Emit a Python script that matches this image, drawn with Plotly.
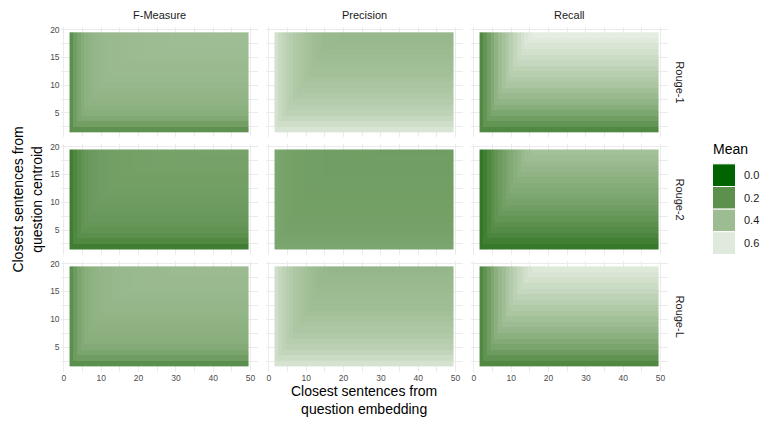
import plotly.graph_objects as go
import numpy as np

# ---------------- data ----------------
metrics = ["F-Measure", "Precision", "Recall"]
rouges = ["Rouge-1", "Rouge-2", "Rouge-L"]
x_vals = list(range(2, 50))   # closest sentences from question embedding
y_vals = list(range(2, 20))   # closest sentences from question centroid
legend_breaks = [0.0, 0.2, 0.4, 0.6]

# top-row profile (y = 19, x = 2..49) and right-column profile (x = 49, y = 2..19)
r1_f_top = [0.200,0.260,0.300,0.330,0.350,0.360,0.370,0.375,0.380,0.383,
            0.386,0.388,0.390,0.392,0.393,0.394,0.395,0.396,0.397,0.398,
            0.399,0.400,0.400,0.401,0.401,0.402,0.402,0.403,0.403,0.404,
            0.404,0.405,0.405,0.405,0.406,0.406,0.406,0.407,0.407,0.407,
            0.408,0.408,0.408,0.409,0.409,0.409,0.410,0.410]
r1_f_side = [0.210,0.270,0.310,0.335,0.350,0.360,0.367,0.373,0.378,0.383,
             0.387,0.390,0.393,0.396,0.400,0.403,0.406,0.410]

r1_p_top = [0.560,0.530,0.510,0.490,0.475,0.460,0.450,0.440,0.430,0.420,
            0.410,0.400,0.395,0.390,0.386,0.384,0.383,0.382,0.381,0.381,
            0.380,0.380,0.380,0.379,0.379,0.379,0.378,0.378,0.378,0.378,
            0.377,0.377,0.377,0.377,0.376,0.376,0.376,0.376,0.376,0.375,
            0.375,0.375,0.375,0.375,0.374,0.374,0.374,0.374]
r1_p_side = [0.580,0.550,0.520,0.500,0.485,0.470,0.460,0.450,0.440,0.430,
             0.420,0.415,0.410,0.400,0.395,0.390,0.385,0.380]

r1_r_top = [0.170,0.225,0.275,0.320,0.360,0.395,0.425,0.455,0.485,0.515,
            0.540,0.565,0.585,0.600,0.612,0.616,0.618,0.619,0.620,0.620,
            0.621,0.621,0.621,0.622,0.622,0.622,0.622,0.623,0.623,0.623,
            0.623,0.623,0.624,0.624,0.624,0.624,0.624,0.624,0.625,0.625,
            0.625,0.625,0.625,0.625,0.625,0.625,0.626,0.626]
r1_r_side = [0.170,0.220,0.260,0.300,0.335,0.365,0.390,0.415,0.440,0.460,
             0.480,0.500,0.520,0.540,0.560,0.580,0.600,0.615]

r2_f_top = [0.120,0.165,0.195,0.218,0.233,0.243,0.250,0.255,0.260,0.263,
            0.266,0.268,0.270,0.272,0.273,0.274,0.275,0.276,0.277,0.277,
            0.278,0.278,0.279,0.279,0.280,0.280,0.280,0.281,0.281,0.281,
            0.282,0.282,0.282,0.282,0.283,0.283,0.283,0.283,0.284,0.284,
            0.284,0.284,0.284,0.285,0.285,0.285,0.285,0.285]
r2_f_side = [0.120,0.170,0.198,0.218,0.230,0.240,0.245,0.250,0.255,0.260,
             0.265,0.268,0.271,0.274,0.277,0.280,0.282,0.285]

r2_p_top = [0.300,0.290,0.285,0.280,0.277,0.275,0.273,0.272,0.271,0.270,
            0.269,0.268,0.268,0.267,0.267,0.266,0.266,0.266,0.265,0.265,
            0.265,0.265,0.264,0.264,0.264,0.264,0.264,0.263,0.263,0.263,
            0.263,0.263,0.263,0.263,0.262,0.262,0.262,0.262,0.262,0.262,
            0.262,0.262,0.262,0.261,0.261,0.261,0.261,0.261]
r2_p_side = [0.300,0.292,0.286,0.282,0.279,0.277,0.275,0.273,0.272,0.271,
             0.270,0.269,0.268,0.267,0.266,0.265,0.264,0.263]

r2_r_top = [0.090,0.125,0.160,0.190,0.220,0.250,0.275,0.300,0.320,0.340,
            0.360,0.380,0.400,0.410,0.420,0.423,0.425,0.426,0.427,0.428,
            0.428,0.429,0.429,0.430,0.430,0.430,0.431,0.431,0.431,0.432,
            0.432,0.432,0.432,0.433,0.433,0.433,0.433,0.434,0.434,0.434,
            0.434,0.434,0.435,0.435,0.435,0.435,0.435,0.435]
r2_r_side = [0.095,0.125,0.155,0.180,0.205,0.225,0.245,0.265,0.285,0.300,
             0.315,0.330,0.345,0.360,0.375,0.390,0.405,0.420]

rl_f_top = [0.200,0.255,0.295,0.320,0.340,0.350,0.360,0.365,0.370,0.373,
            0.376,0.378,0.380,0.382,0.383,0.384,0.385,0.386,0.387,0.388,
            0.388,0.389,0.389,0.390,0.390,0.390,0.391,0.391,0.391,0.392,
            0.392,0.392,0.392,0.393,0.393,0.393,0.393,0.394,0.394,0.394,
            0.394,0.394,0.395,0.395,0.395,0.395,0.395,0.395]
rl_f_side = [0.200,0.260,0.295,0.320,0.335,0.345,0.352,0.358,0.363,0.368,
             0.372,0.376,0.380,0.383,0.386,0.389,0.392,0.395]

rl_p_top = [0.550,0.520,0.500,0.480,0.465,0.450,0.440,0.430,0.420,0.410,
            0.400,0.390,0.385,0.380,0.377,0.375,0.374,0.373,0.373,0.372,
            0.372,0.372,0.371,0.371,0.371,0.371,0.370,0.370,0.370,0.370,
            0.370,0.369,0.369,0.369,0.369,0.369,0.368,0.368,0.368,0.368,
            0.368,0.368,0.367,0.367,0.367,0.367,0.367,0.367]
rl_p_side = [0.570,0.540,0.510,0.490,0.475,0.460,0.450,0.440,0.430,0.420,
             0.410,0.405,0.400,0.395,0.390,0.385,0.380,0.375]

rl_r_top = [0.170,0.215,0.262,0.305,0.345,0.380,0.410,0.440,0.468,0.495,
            0.520,0.540,0.560,0.577,0.588,0.592,0.594,0.595,0.596,0.596,
            0.597,0.597,0.597,0.598,0.598,0.598,0.598,0.599,0.599,0.599,
            0.599,0.599,0.600,0.600,0.600,0.600,0.600,0.600,0.601,0.601,
            0.601,0.601,0.601,0.601,0.601,0.602,0.602,0.602]
rl_r_side = [0.170,0.215,0.255,0.290,0.320,0.350,0.375,0.400,0.420,0.440,
             0.460,0.480,0.500,0.520,0.540,0.560,0.580,0.595]

# the value that lies closer to the origin wins (L-shaped contours)
combine = {"F-Measure": np.minimum, "Precision": np.maximum, "Recall": np.minimum}

profiles = {
    ("Rouge-1", "F-Measure"): (r1_f_top, r1_f_side),
    ("Rouge-1", "Precision"): (r1_p_top, r1_p_side),
    ("Rouge-1", "Recall"): (r1_r_top, r1_r_side),
    ("Rouge-2", "F-Measure"): (r2_f_top, r2_f_side),
    ("Rouge-2", "Precision"): (r2_p_top, r2_p_side),
    ("Rouge-2", "Recall"): (r2_r_top, r2_r_side),
    ("Rouge-L", "F-Measure"): (rl_f_top, rl_f_side),
    ("Rouge-L", "Precision"): (rl_p_top, rl_p_side),
    ("Rouge-L", "Recall"): (rl_r_top, rl_r_side),
}

# ---------------- colour scale: darkgreen -> white in Lab ----------------
def srgb_to_lab(rgb):
    c = np.array(rgb, float) / 255
    c = np.where(c <= 0.04045, c / 12.92, ((c + 0.055) / 1.055) ** 2.4)
    M = np.array([[0.4124, 0.3576, 0.1805], [0.2126, 0.7152, 0.0722], [0.0193, 0.1192, 0.9505]])
    xyz = M @ c / np.array([0.95047, 1.0, 1.08883])
    f = np.where(xyz > 216 / 24389, np.cbrt(xyz), (24389 / 27 * xyz + 16) / 116)
    return np.array([116 * f[1] - 16, 500 * (f[0] - f[1]), 200 * (f[1] - f[2])])

def lab_to_srgb(lab):
    L, a, b = lab
    fy = (L + 16) / 116
    fx = fy + a / 500
    fz = fy - b / 200
    f = np.array([fx, fy, fz])
    xyz = np.where(f ** 3 > 216 / 24389, f ** 3, (116 * f - 16) / (24389 / 27))
    xyz = xyz * np.array([0.95047, 1.0, 1.08883])
    Mi = np.array([[3.2406, -1.5372, -0.4986], [-0.9689, 1.8758, 0.0415], [0.0557, -0.2040, 1.0570]])
    c = Mi @ xyz
    c = np.clip(c, 0, 1)
    c = np.where(c <= 0.0031308, 12.92 * c, 1.055 * c ** (1 / 2.4) - 0.055)
    return tuple(int(round(v * 255)) for v in c)

ZMIN, ZMAX = 0.0, 0.693
lab_lo = srgb_to_lab((0, 100, 0))
lab_hi = srgb_to_lab((255, 255, 255))

def colour_at(v):
    t = (v - ZMIN) / (ZMAX - ZMIN)
    r, g, b = lab_to_srgb(lab_lo + (lab_hi - lab_lo) * t)
    return f"rgb({r},{g},{b})"

colorscale = [[i / 30, colour_at(ZMIN + (ZMAX - ZMIN) * i / 30)] for i in range(31)]

# ---------------- layout geometry ----------------
W, H = 763, 424
col_px = [(60.6, 257.6), (265.6, 462.6), (470.6, 667.6)]
row_px = [(24.5, 135.3), (142.5, 253.3), (260.2, 371.4)]

def px(x):
    return x / W

def py(y):
    return 1 - y / H

fig = go.Figure()
layout_axes = {}
FONT = "Liberation Sans, Arial, sans-serif"
GRID = "#ebebeb"

for r, rouge in enumerate(rouges):
    for c, metric in enumerate(metrics):
        n = r * 3 + c + 1
        top, side = profiles[(rouge, metric)]
        assert len(top) == len(x_vals) and len(side) == len(y_vals)
        z = combine[metric](np.array(top)[None, :], np.array(side)[:, None])
        sfx = "" if n == 1 else str(n)
        fig.add_trace(go.Heatmap(
            x=x_vals, y=y_vals, z=z, zmin=ZMIN, zmax=ZMAX,
            colorscale=colorscale, showscale=False,
            xaxis="x" + sfx, yaxis="y" + sfx,
            hovertemplate=f"{rouge} {metric}<br>x=%{{x}}<br>y=%{{y}}<br>mean=%{{z:.3f}}<extra></extra>",
        ))
        layout_axes["xaxis" + sfx] = dict(
            domain=[px(col_px[c][0]), px(col_px[c][1])],
            anchor="y" + sfx, range=[-0.9, 51.9],
            tickmode="array", tickvals=[0, 10, 20, 30, 40, 50],
            showticklabels=(r == 2), ticks="",
            showgrid=True, gridcolor=GRID, gridwidth=1,
            minor=dict(tickmode="array", tickvals=[5, 15, 25, 35, 45],
                       showgrid=True, gridcolor=GRID, gridwidth=0.6),
            zeroline=False, showline=False,
            tickfont=dict(family=FONT, size=8.5, color="#4d4d4d"),
        )
        layout_axes["yaxis" + sfx] = dict(
            domain=[py(row_px[r][1]), py(row_px[r][0])],
            anchor="x" + sfx, range=[0.6, 20.4],
            tickmode="array", tickvals=[5, 10, 15, 20],
            showticklabels=(c == 0), ticks="",
            showgrid=True, gridcolor=GRID, gridwidth=1,
            minor=dict(tickmode="array", tickvals=[2.5, 7.5, 12.5, 17.5],
                       showgrid=True, gridcolor=GRID, gridwidth=0.6),
            zeroline=False, showline=False,
            tickfont=dict(family=FONT, size=8.5, color="#4d4d4d"),
        )

annotations = []
# column strip labels
for c, metric in enumerate(metrics):
    annotations.append(dict(
        x=px((col_px[c][0] + col_px[c][1]) / 2), y=py(12.5),
        xref="paper", yref="paper", text=metric, showarrow=False,
        xanchor="center", yanchor="middle",
        font=dict(family=FONT, size=11, color="#1a1a1a")))
# row strip labels
for r, rouge in enumerate(rouges):
    annotations.append(dict(
        x=px(680), y=py((row_px[r][0] + row_px[r][1]) / 2),
        xref="paper", yref="paper", text=rouge, showarrow=False,
        textangle=90, xanchor="center", yanchor="middle",
        font=dict(family=FONT, size=11, color="#1a1a1a")))
# axis titles
annotations.append(dict(
    x=px(364), y=py(400), xref="paper", yref="paper",
    text="Closest sentences from<br>question embedding", showarrow=False,
    xanchor="center", yanchor="middle",
    font=dict(family=FONT, size=14, color="#000000")))
annotations.append(dict(
    x=px(27), y=py(198), xref="paper", yref="paper",
    text="Closest sentences from<br>question centroid", showarrow=False,
    textangle=-90, xanchor="center", yanchor="middle",
    font=dict(family=FONT, size=14, color="#000000")))
# legend
annotations.append(dict(
    x=px(711), y=py(147), xref="paper", yref="paper", text="Mean",
    showarrow=False, xanchor="left", yanchor="middle",
    font=dict(family=FONT, size=14, color="#000000")))

shapes = []
key_top, key_h = 162.0, 22.8
for i, b in enumerate(legend_breaks):
    y0 = key_top + i * key_h
    shapes.append(dict(
        type="rect", xref="paper", yref="paper",
        x0=px(712.5), x1=px(735.5), y0=py(y0 + key_h), y1=py(y0),
        fillcolor=colour_at(b), line=dict(color="white", width=1), layer="above"))
    annotations.append(dict(
        x=px(742), y=py(y0 + key_h / 2), xref="paper", yref="paper",
        text=f"{b:.1f}", showarrow=False, xanchor="left", yanchor="middle",
        font=dict(family=FONT, size=11, color="#1a1a1a")))

fig.update_layout(
    width=W, height=H, autosize=False,
    margin=dict(l=0, r=0, t=0, b=0),
    paper_bgcolor="white", plot_bgcolor="rgba(0,0,0,0)",
    showlegend=False,
    annotations=annotations, shapes=shapes,
    **layout_axes,
)

fig.write_html("out.html")
